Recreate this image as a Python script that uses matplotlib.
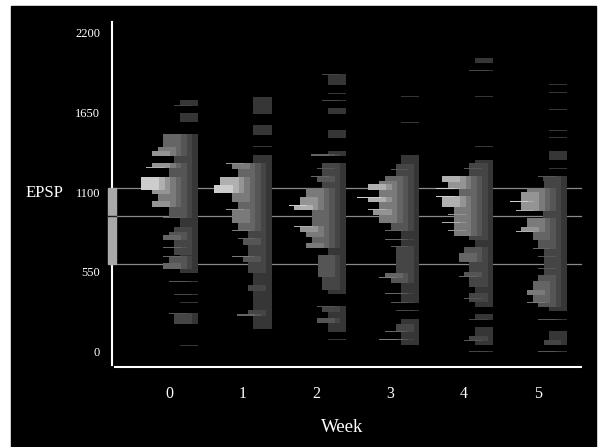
import numpy as np
import matplotlib.pyplot as plt
from matplotlib.patches import Rectangle

plt.rcParams['font.family'] = ['Liberation Serif', 'DejaVu Serif']

weeks = [0, 1, 2, 3, 4, 5]
yticks = [0, 550, 1100, 1650, 2200]
ref_lines = [1131, 938, 607]   # box: lower, median, upper
box_lo, box_mid, box_hi = 607, 938, 1131

# blocks per week: (EPSP low, EPSP high, depth)  depth = stacked histogram extent
blocks = {
    0: [(1699, 1733, 18), (1584, 1642, 18), (540, 1497, 18),
        (1412, 1497, 34.7), (1382, 1412, 40.3), (1350, 1382, 46.3), (1298, 1350, 24),
        (1263, 1298, 46.3), (1205, 1263, 28.7), (1114, 1205, 57), (1084, 1114, 46.3),
        (1038, 1084, 40.3), (999, 1038, 46.3), (953, 999, 28.7), (919, 953, 28.7),
        (861, 919, 18), (826, 861, 24), (804, 826, 28.7), (769, 804, 34.7),
        (666, 769, 24), (609, 654, 28.7), (569, 609, 34.7), (193, 260, 24)],
    1: [(1637, 1756, 18.3), (1492, 1561, 18.3), (154, 1355, 18.3),
        (1256, 1298, 40), (1201, 1256, 34), (1148, 1201, 51.7), (1091, 1148, 57.3),
        (1033, 1091, 40), (981, 1033, 34), (884, 981, 40), (833, 884, 34),
        (781, 833, 23.3), (735, 781, 29), (659, 735, 23.3), (620, 659, 29),
        (540, 620, 23.3), (420, 459, 24), (253, 287, 24)],
    2: [(1837, 1906, 18), (1637, 1676, 18), (1470, 1527, 18), (1355, 1382, 18),
        (397, 1298, 18), (1263, 1298, 23.7), (1205, 1263, 23.7), (1171, 1205, 28.7),
        (1125, 1171, 23.7), (1068, 1125, 39.3), (1004, 1068, 46), (976, 1004, 51.3),
        (861, 976, 33.7), (826, 861, 45.3), (792, 826, 39.3), (751, 792, 33.7),
        (712, 751, 39.3), (512, 666, 28), (425, 512, 23.7), (138, 310, 18),
        (275, 310, 23.7), (196, 230, 28.7)],
    3: [(340, 1355, 18.3), (1256, 1293, 23.7), (1210, 1256, 23.7), (1178, 1210, 34.3),
        (1153, 1178, 40), (1114, 1153, 51), (1068, 1114, 40), (1033, 1068, 51),
        (981, 1033, 40), (941, 981, 46), (884, 941, 40), (833, 884, 28.7),
        (544, 723, 23.7), (512, 544, 34.3), (475, 512, 28.7), (46, 227, 18.3),
        (138, 190, 23.7)],
    4: [(1986, 2020, 17.7), (306, 1320, 17.7), (1210, 1298, 23.7), (1171, 1210, 51),
        (1118, 1171, 45.3), (1068, 1118, 34.3), (999, 1068, 51), (797, 999, 39.3),
        (769, 797, 23.7), (682, 723, 29.3), (620, 682, 34.3), (551, 620, 23.7),
        (512, 551, 29.3), (448, 512, 23.7), (340, 402, 23.7), (223, 260, 17.7),
        (46, 168, 17.7), (76, 108, 23.7)],
    5: [(1320, 1382, 18.3), (280, 1205, 18.3), (1176, 1205, 24), (1125, 1176, 23.3),
        (1098, 1125, 40), (976, 1098, 46), (919, 976, 24), (861, 919, 40),
        (826, 861, 46), (769, 826, 34), (712, 769, 29.3), (528, 712, 23.3),
        (482, 528, 29.3), (425, 482, 34), (390, 425, 40), (333, 390, 34),
        (306, 333, 29.3), (46, 143, 18.3), (46, 81, 23.3)],
}

# single sparse values per week: (EPSP, depth)
singles = {
    0: [(1699, 24), (1268, 52), (923, 34.7), (716, 34.7), (658, 34.7), (482, 28.7),
        (397, 24), (340, 18), (260, 28.7), (46, 18)],
    1: [(1412, 18.3), (1298, 45.7), (981, 45.7), (833, 40), (781, 34), (659, 40),
        (253, 35)],
    2: [(1906, 23.7), (1780, 18), (1729, 23.7), (1355, 34.3), (1263, 28.7),
        (1205, 34.3), (1004, 57), (861, 51.3), (310, 28.7), (81, 18)],
    3: [(1761, 18.3), (1580, 18.3), (1256, 28.7), (1063, 62.7), (981, 51), (833, 34),
        (776, 34), (723, 28.7), (512, 40), (402, 34), (340, 28.7), (282, 23.7),
        (138, 34), (81, 40)],
    4: [(1935, 23.7), (1756, 17.7), (1412, 17.7), (1263, 29.3), (1125, 57), (1068, 57),
        (945, 45.3), (888, 51), (838, 45.3), (516, 34.3), (367, 29.3), (223, 23.7),
        (76, 29.3), (0, 23.7)],
    5: [(1842, 18.3), (1784, 18.3), (1671, 18.3), (1522, 18.3), (1474, 18.3),
        (1263, 18.3), (1205, 29.3), (1033, 56.7), (976, 50.7), (830, 50.7), (712, 34),
        (654, 29.3), (574, 29.3), (482, 34), (340, 40), (223, 29.3), (0, 29.3)],
}

layer_colors = ['#363636', '#454545', '#555555', '#656565',
                '#7a7a7a', '#949494', '#b0b0b0', '#cdcdcd']

fig = plt.figure(figsize=(6.05, 4.47), dpi=100, facecolor='white')
fig.patches.append(Rectangle((11 / 605, 0), 585 / 605, 441 / 447,
                             transform=fig.transFigure, color='black', zorder=-10))

ax = fig.add_axes([0.1851, 0.1790, 0.7752, 0.7718])
ax.set_facecolor('none')
ax.set_xlim(-0.772, 5.583)
ax.set_ylim(-105, 2271)

px = 1 / 73.8          # week units per pixel of histogram depth
back_edge = 0.393
step = 5.5

# stacked histogram layers, back (dark) to front (light)
for j, col in enumerate(layer_colors):
    for w in weeks:
        rows = [(lo, hi, d) for lo, hi, d in blocks[w]]
        rows += [(v - 3.5, v + 3.5, d) for v, d in singles[w]]
        for lo, hi, d in rows:
            k = int(np.clip(round((d - 18) / step), 0, 7))
            if k < j:
                continue
            left = w + back_edge - d * px
            ax.barh(lo, (d - step * j) * px, height=hi - lo, left=left,
                    align='edge', color=col, linewidth=0, zorder=3)

# reference lines from the box
for v in ref_lines:
    ax.plot([-0.718, 5.583], [v, v], color='#8a8a8a', lw=0.9,
            clip_on=False, zorder=2)

ax.add_patch(Rectangle((-0.827, box_lo), 0.109, box_hi - box_lo, color='#a9a9a9',
                       clip_on=False, zorder=5))
ax.plot([-0.827, -0.718], [box_mid, box_mid], color='#202020', lw=1,
        clip_on=False, zorder=6)

for s in ['top', 'right']:
    ax.spines[s].set_visible(False)
for s in ['left', 'bottom']:
    ax.spines[s].set_color('white')
    ax.spines[s].set_linewidth(1.5)
ax.spines['left'].set_bounds(-92, 2271)
ax.spines['bottom'].set_bounds(-0.73, 5.583)

ax.set_yticks(yticks)
ax.set_yticklabels([str(t) for t in yticks])
ax.set_xticks(weeks)
ax.set_xticklabels([str(w) for w in weeks])
ax.tick_params(axis='y', length=0, colors='white', labelsize=9, pad=8.5)
ax.tick_params(axis='x', length=0, colors='white', labelsize=11.5, pad=14)

fig.text(44 / 605, 1 - 193 / 447, 'EPSP', color='white', fontsize=12,
         ha='center', va='center')
fig.text(342 / 605, 1 - 427 / 447, 'Week', color='white', fontsize=13.5,
         ha='center', va='center')

fig.savefig('out.png', dpi=100, facecolor=fig.get_facecolor())
